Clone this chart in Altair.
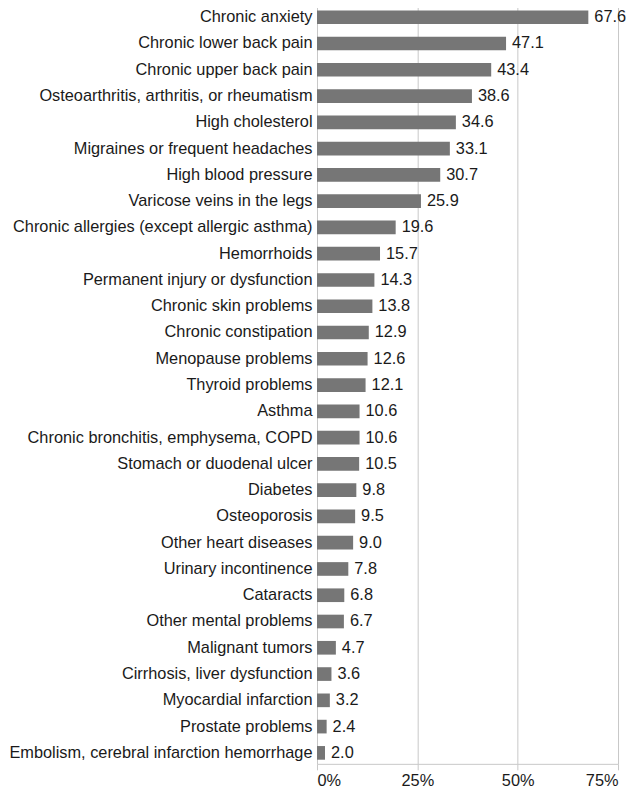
import altair as alt
import pandas as pd

categories = [
    "Chronic anxiety",
    "Chronic lower back pain",
    "Chronic upper back pain",
    "Osteoarthritis, arthritis, or rheumatism",
    "High cholesterol",
    "Migraines or frequent headaches",
    "High blood pressure",
    "Varicose veins in the legs",
    "Chronic allergies (except allergic asthma)",
    "Hemorrhoids",
    "Permanent injury or dysfunction",
    "Chronic skin problems",
    "Chronic constipation",
    "Menopause problems",
    "Thyroid problems",
    "Asthma",
    "Chronic bronchitis, emphysema, COPD",
    "Stomach or duodenal ulcer",
    "Diabetes",
    "Osteoporosis",
    "Other heart diseases",
    "Urinary incontinence",
    "Cataracts",
    "Other mental problems",
    "Malignant tumors",
    "Cirrhosis, liver dysfunction",
    "Myocardial infarction",
    "Prostate problems",
    "Embolism, cerebral infarction hemorrhage",
]
values = [67.6, 47.1, 43.4, 38.6, 34.6, 33.1, 30.7, 25.9, 19.6, 15.7, 14.3, 13.8,
          12.9, 12.6, 12.1, 10.6, 10.6, 10.5, 9.8, 9.5, 9.0, 7.8, 6.8, 6.7, 4.7,
          3.6, 3.2, 2.4, 2.0]
x_ticks = [0, 25, 50, 75]

df = pd.DataFrame({"category": categories, "value": values})
df["label"] = [f"{v:.1f}" for v in values]

FONT = "Liberation Sans"
FS = 16.4
TEXT = "#1a1a1a"

y_enc = alt.Y(
    "category:N",
    sort=categories,
    title=None,
    scale=alt.Scale(paddingInner=0.48, paddingOuter=0.157),
    axis=alt.Axis(domain=False, ticks=False, grid=False, labelPadding=5,
                  labelFont=FONT, labelFontSize=FS, labelColor=TEXT, labelLimit=400),
)
x_enc = alt.X(
    "value:Q",
    title=None,
    scale=alt.Scale(domain=[0, 75], nice=False),
    axis=alt.Axis(values=x_ticks, labelExpr="datum.value + '%'", grid=True,
                  gridColor="#c8c8c8", gridWidth=1, domainColor="#c8c8c8",
                  tickColor="#c8c8c8", tickSize=6, labelPadding=3,
                  labelFont=FONT, labelFontSize=FS, labelColor=TEXT),
)

bars = alt.Chart(df).mark_bar(color="#767676").encode(x=x_enc, y=y_enc)
labels = alt.Chart(df).mark_text(
    align="left", baseline="middle", dx=6, font=FONT, fontSize=FS, color=TEXT
).encode(x="value:Q", y=alt.Y("category:N", sort=categories), text="label:N")

chart = (bars + labels).properties(
    width=302,
    height=760,
    autosize=alt.AutoSizeParams(type="none"),
    padding={"left": 310, "top": -3, "right": 10, "bottom": 30},
).configure_view(stroke=None)

chart.save("out.html", embed_options={"renderer": "svg", "actions": False})
